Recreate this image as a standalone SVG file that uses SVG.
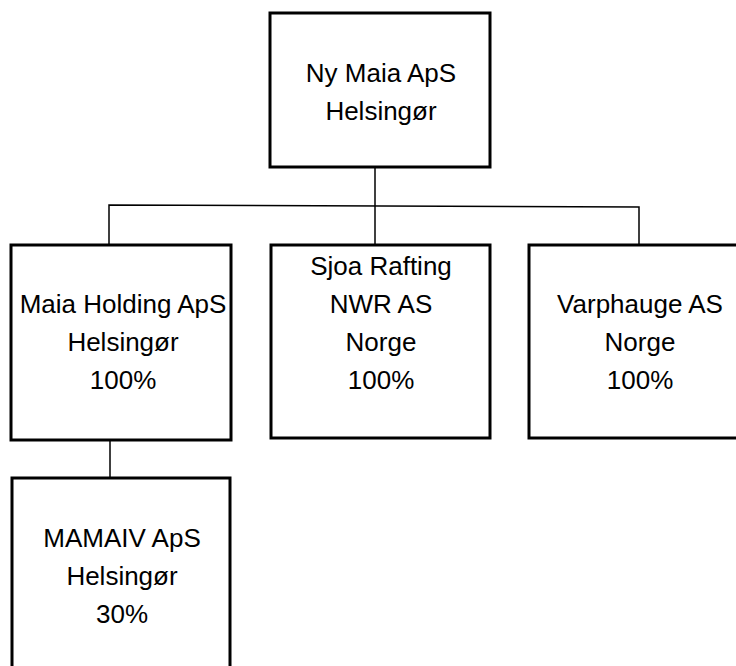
<svg xmlns="http://www.w3.org/2000/svg" width="736" height="666" viewBox="0 0 736 666">
<style>
.box{fill:#fff;stroke:#000;stroke-width:3}
.lbl{font-family:"Liberation Sans",Arial,sans-serif;font-size:26px;fill:#000;text-anchor:middle}
.conn{stroke:#000;stroke-width:1.5;fill:none}
</style>
<rect width="736" height="666" fill="#fff"/>
<g id="connectors">
<line class="conn" x1="375" y1="167" x2="375" y2="245"/>
<polyline class="conn" points="109,245 109,205 639,207 639,245"/>
<line class="conn" x1="110" y1="440" x2="110" y2="478"/>
</g>
<g id="ny-maia">
<rect class="box" x="270" y="13" width="220" height="154"/>
<text class="lbl" x="381" y="82">Ny Maia ApS</text>
<text class="lbl" x="381" y="120">Helsingør</text>
</g>
<g id="maia-holding">
<rect class="box" x="11" y="245" width="220" height="195"/>
<text class="lbl" x="123" y="313">Maia Holding ApS</text>
<text class="lbl" x="123" y="351">Helsingør</text>
<text class="lbl" x="123" y="389">100%</text>
</g>
<g id="sjoa">
<rect class="box" x="271" y="245" width="219" height="193"/>
<text class="lbl" x="381" y="275">Sjoa Rafting</text>
<text class="lbl" x="381" y="313">NWR AS</text>
<text class="lbl" x="381" y="351">Norge</text>
<text class="lbl" x="381" y="389">100%</text>
</g>
<g id="varphauge">
<rect class="box" x="529" y="245" width="222" height="193"/>
<text class="lbl" x="640" y="313">Varphauge AS</text>
<text class="lbl" x="640" y="351">Norge</text>
<text class="lbl" x="640" y="389">100%</text>
</g>
<g id="mamaiv">
<rect class="box" x="12" y="478" width="218" height="200"/>
<text class="lbl" x="122" y="547">MAMAIV ApS</text>
<text class="lbl" x="122" y="585">Helsingør</text>
<text class="lbl" x="122" y="623">30%</text>
</g>
</svg>
